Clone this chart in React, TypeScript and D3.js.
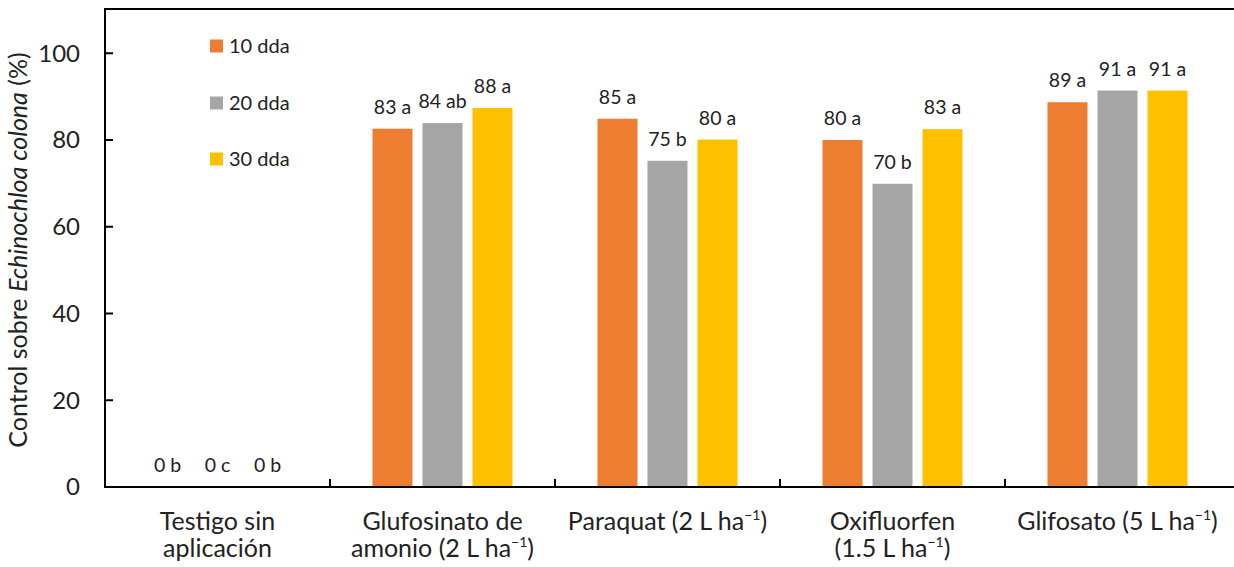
import React from "react";
import * as d3 from "d3";

const categories = ["Testigo sin aplicación", "Glufosinato de amonio (2 L ha⁻¹)", "Paraquat (2 L ha⁻¹)", "Oxifluorfen (1.5 L ha⁻¹)", "Glifosato (5 L ha⁻¹)"];
const categoryLines: { text: string; sup?: string; after?: string }[][] = [
  [{ text: "Testigo sin" }, { text: "aplicación" }],
  [{ text: "Glufosinato de" }, { text: "amonio (2 L ha", sup: "−1", after: ")" }],
  [{ text: "Paraquat (2 L ha", sup: "−1", after: ")" }],
  [{ text: "Oxifluorfen" }, { text: "(1.5 L ha", sup: "−1", after: ")" }],
  [{ text: "Glifosato (5 L ha", sup: "−1", after: ")" }],
];
const seriesNames = ["10 dda", "20 dda", "30 dda"];
const seriesColors = ["#ED7D31", "#A5A5A5", "#FFC000"];
const values10 = [0, 82.6, 84.9, 80.0, 88.7];
const values20 = [0, 83.9, 75.2, 69.9, 91.4];
const values30 = [0, 87.4, 80.1, 82.5, 91.4];
const labels10 = ["0 b", "83 a", "85 a", "80 a", "89 a"];
const labels20 = ["0 c", "84 ab", "75 b", "70 b", "91 a"];
const labels30 = ["0 b", "88 a", "80 a", "83 a", "91 a"];
const yTicks = [0, 20, 40, 60, 80, 100];

const W = 1234;
const H = 567;
const left = 105;
const right = 1230;
const top = 9;
const bottom = 487;
const FONT = "Lato, 'Open Sans', sans-serif";
const TEXT = "#222";

export default function App() {
  const x = d3.scaleBand<string>().domain(categories).range([left, right]).paddingInner(0).paddingOuter(0);
  const xs = d3.scaleBand<string>().domain(seriesNames).range([-75, 75]).paddingInner(0.2).paddingOuter(0.1);
  const y = d3.scaleLinear().domain([0, 110.2]).range([bottom, top]);
  const seriesValues = [values10, values20, values30];
  const seriesLabels = [labels10, labels20, labels30];
  const bw = xs.bandwidth();
  const legendY = [46, 103, 159];

  return (
    <div style={{ position: "fixed", left: 0, top: 0 }}>
      <svg width={W} height={H} style={{ display: "block", background: "#fff" }} fontFamily={FONT}>
        {seriesNames.map((s, si) =>
          categories.map((c, ci) => {
            const v = seriesValues[si][ci];
            const cx = (x(c) as number) + x.bandwidth() / 2 + (xs(s) as number);
            return (
              <g key={s + c}>
                {v > 0 && <rect x={cx} y={y(v)} width={bw} height={y(0) - y(v)} fill={seriesColors[si]} />}
                <text x={cx + bw / 2} y={y(v) - 15} textAnchor="middle" fontSize={19.5} fill={TEXT}>
                  {seriesLabels[si][ci]}
                </text>
              </g>
            );
          })
        )}
        <line x1={left} x2={W} y1={top} y2={top} stroke="#000" strokeWidth={2} />
        <line x1={left} x2={left} y1={top - 1} y2={bottom + 1} stroke="#000" strokeWidth={2} />
        <line x1={left - 1} x2={W} y1={bottom} y2={bottom} stroke="#000" strokeWidth={2} />
        {yTicks.map((t) => (
          <g key={t}>
            <line x1={left} x2={left + 8} y1={y(t)} y2={y(t)} stroke="#000" strokeWidth={2} />
            <text x={80} y={y(t)} dy="0.35em" textAnchor="end" fontSize={24} fill={TEXT}>
              {t}
            </text>
          </g>
        ))}
        {categories.slice(1).map((c) => (
          <line key={c} x1={x(c) as number} x2={x(c) as number} y1={bottom} y2={bottom - 8} stroke="#000" strokeWidth={2} />
        ))}
        {categories.map((c, ci) => (
          <text key={c} textAnchor="middle" fontSize={25} fill={TEXT}>
            {categoryLines[ci].map((ln, li) => (
              <tspan key={li} x={(x(c) as number) + x.bandwidth() / 2} y={530 + li * 27}>
                {ln.text}
                {ln.sup && (
                  <tspan fontSize={14} dy={-10}>
                    {ln.sup}
                  </tspan>
                )}
                {ln.after && <tspan dy={10}>{ln.after}</tspan>}
              </tspan>
            ))}
          </text>
        ))}
        <text transform={`translate(17,${(top + bottom) / 2 + 2}) rotate(-90)`} textAnchor="middle" dominantBaseline="central" fontSize={25} fill={TEXT}>
          Control sobre <tspan fontStyle="italic">Echinochloa colona</tspan> (%)
        </text>
        {seriesNames.map((s, si) => (
          <g key={s}>
            <rect x={210} y={legendY[si] - 6.5} width={13} height={13} fill={seriesColors[si]} />
            <text x={229} y={legendY[si]} dy="0.35em" fontSize={20} fill={TEXT}>
              {s}
            </text>
          </g>
        ))}
      </svg>
    </div>
  );
}
